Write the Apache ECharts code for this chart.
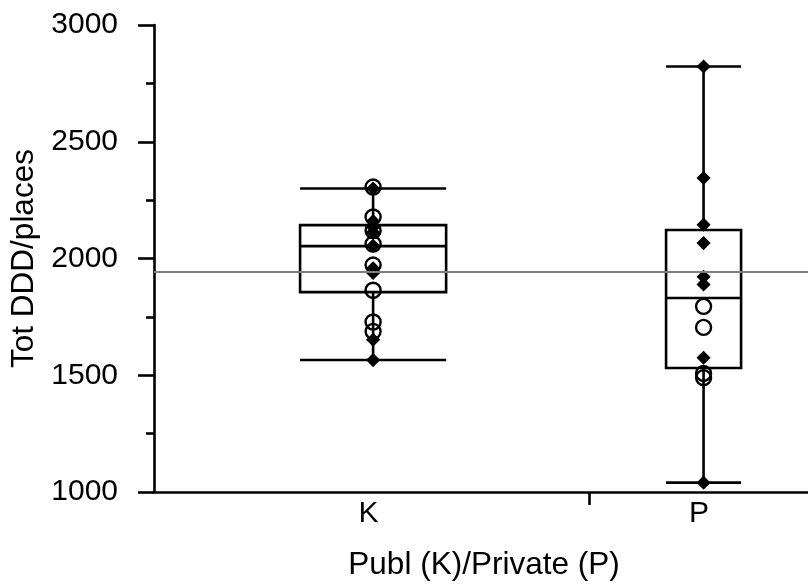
<!DOCTYPE html>
<html>
<head>
<meta charset="utf-8">
<script src="https://cdn.jsdelivr.net/npm/echarts@6/dist/echarts.min.js"></script>
<style>
  html, body { margin: 0; padding: 0; background: #fff; }
  #chart { width: 808px; height: 585px; }
</style>
</head>
<body>
<div id="chart"></div>
<script>
// Groups and where they sit on the x scale
const categories = ['K', 'P'];
const groupX = [1, 2];

// Box summaries per group: [min, Q1, median, Q3, max]
const boxStats = [
  [1565, 1856, 2053, 2143, 2300],
  [1040, 1531, 1831, 2122, 2822]
];

// Individual observations, filled markers
const kFilled = [2300, 2160, 2134, 2112, 2055, 1958, 1938, 1652, 1565];
const pFilled = [2822, 2345, 2145, 2066, 1922, 1889, 1575, 1040];

// Individual observations, open circles
const kOpen = [2306, 2178, 2120, 2062, 1972, 1864, 1728, 1688];
const pOpen = [1795, 1705, 1508, 1490];

// Overall reference level
const referenceLevel = 1942;

// Tick labels on the value axis
const yTicks = [1000, 1500, 2000, 2500, 3000];

const FONT = 'Liberation Sans, Arial, sans-serif';
const boxWidths = [0.442, 0.227];   // in x-axis units
const LW = 2.6;

const chart = echarts.init(document.getElementById('chart'), null, { renderer: 'canvas' });

function pointsFor(values, gi) {
  return values.map(v => [groupX[gi], v]);
}

const boxData = boxStats.map((s, i) => [groupX[i]].concat(s).concat([i]));

const option = {
  animation: false,
  backgroundColor: '#fff',
  grid: { left: 154, right: 0, top: 25, bottom: 93, containLabel: false, outerBoundsMode: 'none' },
  xAxis: {
    type: 'value',
    min: 0.337,
    max: 2.316,
    name: 'Publ (K)/Private (P)',
    nameLocation: 'middle',
    nameGap: 57,
    nameTextStyle: { fontFamily: FONT, fontSize: 31.5, color: '#000', padding: [0, 0, 0, 6] },
    axisLine: { show: true, onZero: false, lineStyle: { color: '#000', width: LW } },
    axisTick: { show: true, length: 13, customValues: [1.654], lineStyle: { color: '#000', width: LW } },
    axisLabel: {
      show: true, customValues: groupX, margin: 7,
      fontFamily: FONT, fontSize: 30, color: '#000', padding: [0, 9, 0, 0],
      formatter: v => categories[groupX.indexOf(v)] || ''
    },
    splitLine: { show: false }
  },
  yAxis: {
    type: 'value',
    min: 1000,
    max: 3000,
    interval: 500,
    name: 'Tot DDD/places',
    nameLocation: 'middle',
    nameGap: 110,
    nameTextStyle: { fontFamily: FONT, fontSize: 31.5, color: '#000' },
    axisLine: { show: true, lineStyle: { color: '#000', width: LW } },
    axisTick: { show: true, length: 16, lineStyle: { color: '#000', width: LW } },
    minorTick: { show: true, splitNumber: 2, length: 8, lineStyle: { color: '#000', width: LW } },
    axisLabel: {
      margin: 36, fontFamily: FONT, fontSize: 30, color: '#000',
      formatter: v => (yTicks.indexOf(v) >= 0 ? String(v) : '')
    },
    splitLine: { show: false }
  },
  series: [
    {
      type: 'custom',
      z: 2,
      data: boxData,
      encode: { x: 0, y: [1, 2, 3, 4, 5] },
      renderItem: function (params, api) {
        const x = api.value(0);
        const gi = api.value(6);
        const half = api.size([boxWidths[gi], 0])[0] / 2;
        const pMin = api.coord([x, api.value(1)]);
        const pQ1 = api.coord([x, api.value(2)]);
        const pMed = api.coord([x, api.value(3)]);
        const pQ3 = api.coord([x, api.value(4)]);
        const pMax = api.coord([x, api.value(5)]);
        const cx = pMin[0];
        const st = { stroke: '#000', lineWidth: LW, fill: null };
        const line = (x1, y1, x2, y2) => ({ type: 'line', shape: { x1, y1, x2, y2 }, style: st });
        return {
          type: 'group',
          children: [
            line(cx, pMax[1], cx, pQ3[1]),
            line(cx, pQ1[1], cx, pMin[1]),
            line(cx - half, pMax[1], cx + half, pMax[1]),
            line(cx - half, pMin[1], cx + half, pMin[1]),
            { type: 'rect', shape: { x: cx - half, y: pQ3[1], width: 2 * half, height: pQ1[1] - pQ3[1] }, style: { stroke: '#000', lineWidth: LW, fill: null } },
            line(cx - half, pMed[1], cx + half, pMed[1])
          ]
        };
      },
      markLine: {
        silent: true,
        symbol: 'none',
        label: { show: false },
        lineStyle: { color: '#7f7f7f', width: 2, type: 'solid' },
        data: [{ yAxis: referenceLevel }]
      }
    },
    {
      type: 'scatter',
      z: 3,
      symbol: 'diamond',
      symbolSize: 12,
      itemStyle: { color: '#000', borderColor: '#000', borderWidth: 1.5, opacity: 1 },
      data: pointsFor(kFilled, 0).concat(pointsFor(pFilled, 1))
    },
    {
      type: 'scatter',
      z: 4,
      symbol: 'circle',
      symbolSize: 15,
      itemStyle: { color: 'rgba(0,0,0,0)', borderColor: '#000', borderWidth: 2.4, opacity: 1 },
      data: pointsFor(kOpen, 0).concat(pointsFor(pOpen, 1))
    }
  ]
};

chart.setOption(option);
</script>
</body>
</html>
